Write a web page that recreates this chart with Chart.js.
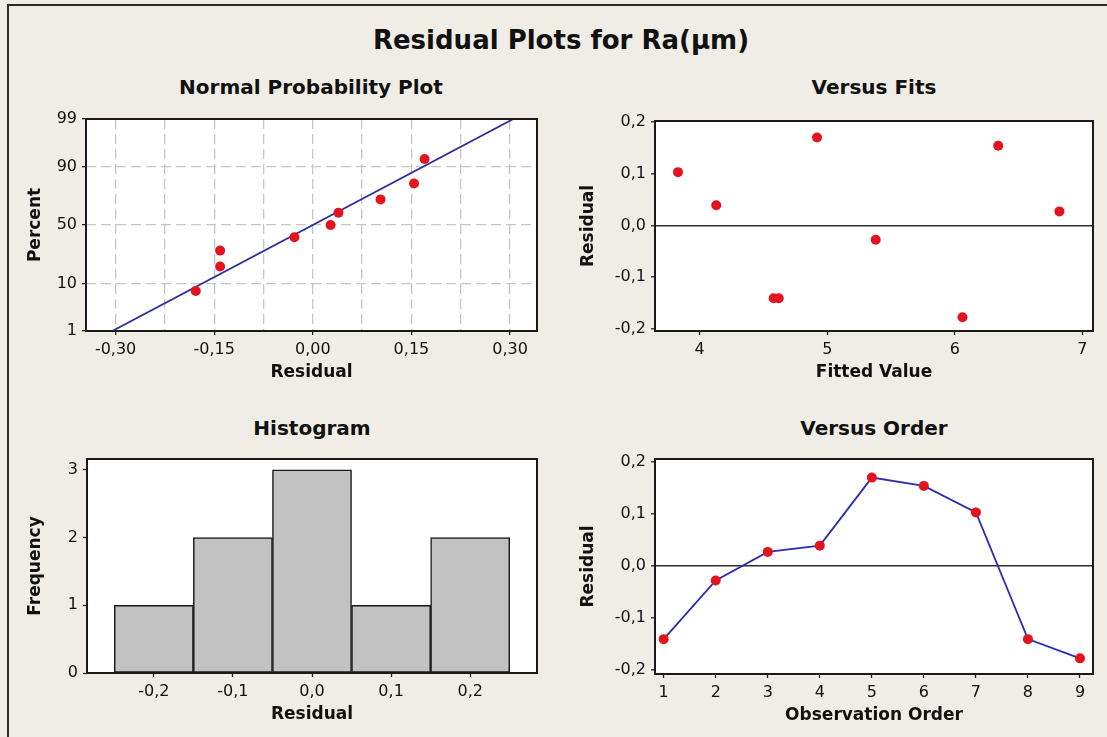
<!DOCTYPE html>
<html>
<head>
<meta charset="utf-8">
<title>Residual Plots for Ra(µm)</title>
<script src="https://cdn.jsdelivr.net/npm/chart.js@4.4.1/dist/chart.umd.min.js"></script>
<style>
  html, body { margin: 0; padding: 0; }
  body {
    width: 1107px; height: 737px; position: relative; overflow: hidden;
    background: #efede5; color: #111;
    font-family: 'DejaVu Sans', sans-serif;
  }
  #frame {
    position: absolute; left: 7px; top: 4px; right: -10px; bottom: -10px;
    border-left: 2px solid #2b2b2b; border-top: 2px solid #2b2b2b;
  }
  .title { position: absolute; text-align: center; font-weight: bold; white-space: nowrap; }
  #main { left: 0; width: 1122px; top: 22px; font-size: 26px; line-height: 36px; }
  .panel { font-size: 20px; line-height: 24px; width: 460px; }
  canvas { position: absolute; }
</style>
</head>
<body>
<div id="frame"></div>
<div id="main" class="title">Residual Plots for Ra(µm)</div>
<div class="title panel" style="left:81px; top:75px;">Normal Probability Plot</div>
<div class="title panel" style="left:644px; top:75px;">Versus Fits</div>
<div class="title panel" style="left:82px; top:416px;">Histogram</div>
<div class="title panel" style="left:644px; top:416px;">Versus Order</div>

<canvas id="prob" width="527" height="291" style="left:25px; top:104px;"></canvas>
<canvas id="fits" width="530" height="289" style="left:578px; top:106px;"></canvas>
<canvas id="hist" width="527" height="293" style="left:25px; top:444px;"></canvas>
<canvas id="order" width="530" height="294" style="left:578px; top:444px;"></canvas>

<script>
// values
const observations = [1, 2, 3, 4, 5, 6, 7, 8, 9];
const residuals = [-0.141, -0.028, 0.027, 0.039, 0.170, 0.154, 0.103, -0.141, -0.178];
const fittedValues = [4.58, 5.38, 6.82, 4.13, 4.92, 6.34, 3.83, 4.62, 6.06];
const probPercents = [7.4, 18.1, 28.7, 39.4, 50, 60.6, 71.3, 81.9, 92.6];
const fitLineResid = [-0.305, 0.305];
const fitLinePercent = [1, 99];
const binCentres = [-0.2, -0.1, 0.0, 0.1, 0.2];
const binCounts = [1, 2, 3, 1, 2];

// tick positions
const probXTicks = [-0.3, -0.225, -0.15, -0.075, 0, 0.075, 0.15, 0.225, 0.3];
const probYTicks = [1, 10, 50, 90, 99];
const residTicks = [-0.2, -0.1, 0, 0.1, 0.2];
const fitTicks = [4, 5, 6, 7];
const countTicks = [0, 1, 2, 3];

// inverse normal cdf (Acklam) for the probability axis
function probit(p) {
  const a = [-39.69683028665376, 220.9460984245205, -275.9285104469687, 138.3577518672690, -30.66479806614716, 2.506628277459239];
  const b = [-54.47609879822406, 161.5858368580409, -155.6989798598866, 66.80131188771972, -13.28068155288572];
  const c = [-0.007784894002430293, -0.3223964580411365, -2.400758277161838, -2.549732539343734, 4.374664141464968, 2.938163982698783];
  const d = [0.007784695709041462, 0.3224671290700398, 2.445134137142996, 3.754408661907416];
  const tail = q => (((((c[0]*q + c[1])*q + c[2])*q + c[3])*q + c[4])*q + c[5]) /
                    ((((d[0]*q + d[1])*q + d[2])*q + d[3])*q + 1);
  if (p < 0.02425) return tail(Math.sqrt(-2 * Math.log(p)));
  if (p > 1 - 0.02425) return -tail(Math.sqrt(-2 * Math.log(1 - p)));
  const q = p - 0.5, r = q * q;
  return (((((a[0]*r + a[1])*r + a[2])*r + a[3])*r + a[4])*r + a[5]) * q /
         (((((b[0]*r + b[1])*r + b[2])*r + b[3])*r + b[4])*r + 1);
}

function normCdf(z) {
  const t = 1 / (1 + 0.3275911 * Math.abs(z) / Math.SQRT2);
  const y = 1 - (((((1.061405429*t - 1.453152027)*t) + 1.421413741)*t - 0.284496736)*t + 0.254829592)*t *
            Math.exp(-z * z / 2);
  return z >= 0 ? (1 + y) / 2 : (1 - y) / 2;
}

// normal probability scale (percent axis)
class ProbitScale extends Chart.Scale {
  static id = 'probit';
  static defaults = {};
  determineDataLimits() {
    this.min = this.options.min;
    this.max = this.options.max;
  }
  buildTicks() {
    return probYTicks.map(v => ({ value: v }));
  }
  getLabelForValue(v) { return String(v); }
  configure() {
    super.configure();
    this._zMin = probit(this.min / 100);
    this._zMax = probit(this.max / 100);
  }
  getPixelForTick(i) { return this.getPixelForValue(this.ticks[i].value); }
  getPixelForValue(v) {
    return this.getPixelForDecimal((probit(v / 100) - this._zMin) / (this._zMax - this._zMin));
  }
  getValueForPixel(px) {
    return 100 * normCdf(this._zMin + this.getDecimalForPixel(px) * (this._zMax - this._zMin));
  }
}
Chart.register(ProbitScale);

Chart.defaults.font.family = "'DejaVu Sans', sans-serif";
Chart.defaults.color = '#111';

// white plot area and black box round it
const framePlugin = {
  id: 'frame',
  beforeDraw(chart) {
    const { ctx, chartArea: a } = chart;
    ctx.save();
    ctx.fillStyle = '#ffffff';
    ctx.fillRect(a.left, a.top, a.width, a.height);
    ctx.restore();
  },
  afterDraw(chart) {
    const { ctx, chartArea: a } = chart;
    ctx.save();
    ctx.strokeStyle = '#1a1a1a';
    ctx.lineWidth = 2;
    ctx.strokeRect(a.left, a.top, a.width, a.height);
    ctx.restore();
  }
};

const comma = (v, n) => v.toFixed(n).replace('.', ',');
const tickFont = { size: 16 };
const titleFont = { size: 17, weight: 'bold' };
const noColor = 'rgba(0,0,0,0)';

// bottom axis with fixed height
function xAxis(min, max, tickVals, fmt, text, grid, dash) {
  return {
    type: 'linear', min: min, max: max, offset: false,
    afterBuildTicks: s => { s.ticks = tickVals.map(v => ({ value: v })); },
    afterFit: s => { s.height = 64; },
    ticks: { font: tickFont, color: '#111', padding: 5, maxRotation: 0, autoSkip: false, callback: fmt },
    grid: Object.assign({ tickLength: 4, tickWidth: 1.3, tickColor: '#222', offset: false }, grid),
    border: { display: false, dash: dash || [] },
    title: { display: true, text: text, font: titleFont, color: '#111', padding: { top: 0, bottom: 11.8 } }
  };
}

// left axis with fixed width
function yAxis(type, min, max, tickVals, fmt, text, width, grid, dash) {
  const axis = {
    type: type, min: min, max: max,
    afterFit: s => { s.width = width; },
    ticks: { font: tickFont, color: '#111', padding: 5, autoSkip: false, callback: fmt },
    grid: Object.assign({ tickLength: 4, tickWidth: 1.3, tickColor: '#222' }, grid),
    border: { display: false, dash: dash || [] },
    title: { display: true, text: text, font: titleFont, color: '#111', padding: { top: 0, bottom: 0 } }
  };
  if (type === 'linear') axis.afterBuildTicks = s => { s.ticks = tickVals.map(v => ({ value: v })); };
  return axis;
}

const zeroLine = { color: ctx => (ctx.tick && ctx.tick.value === 0 ? '#2e2e2e' : noColor), lineWidth: 1.6 };
const dashedGrid = { color: '#c6c6c6', lineWidth: 1.3 };

function baseOptions(scales) {
  return {
    responsive: false,
    animation: false,
    events: [],
    layout: { padding: { left: 0, top: 15, right: 15, bottom: 0 } },
    plugins: { legend: { display: false }, tooltip: { enabled: false } },
    scales: scales
  };
}

const redPoint = { pointRadius: 5, pointBackgroundColor: '#e3141e', pointBorderWidth: 0 };

// normal probability plot
const sortedResid = residuals.slice().sort((a, b) => a - b);
new Chart(document.getElementById('prob'), {
  type: 'scatter',
  data: {
    datasets: [
      Object.assign({ data: sortedResid.map((r, i) => ({ x: r, y: probPercents[i] })) }, redPoint),
      {
        data: fitLineResid.map((r, i) => ({ x: r, y: fitLinePercent[i] })),
        showLine: true, pointRadius: 0, borderColor: '#2d2d9e', borderWidth: 1.8
      }
    ]
  },
  options: baseOptions({
    x: xAxis(-0.345, 0.341, probXTicks, (v, i) => (i % 2 === 0 ? comma(v, 2) : ''), 'Residual',
      Object.assign({ tickColor: ctx => (ctx.index % 2 === 0 ? '#222' : noColor) }, dashedGrid), [10, 5]),
    y: yAxis('probit', 1, 99, probYTicks, v => String(v), 'Percent', 61, dashedGrid, [10, 5])
  }),
  plugins: [framePlugin]
});

// versus fits
new Chart(document.getElementById('fits'), {
  type: 'scatter',
  data: {
    datasets: [
      Object.assign({ data: fittedValues.map((f, i) => ({ x: f, y: residuals[i] })) }, redPoint)
    ]
  },
  options: baseOptions({
    x: xAxis(3.65, 7.083, fitTicks, v => String(v), 'Fitted Value', { drawOnChartArea: false }),
    y: yAxis('linear', -0.2045, 0.202, residTicks, v => comma(v, 1), 'Residual', 77, zeroLine)
  }),
  plugins: [framePlugin]
});

// histogram
new Chart(document.getElementById('hist'), {
  type: 'bar',
  data: {
    datasets: [{
      data: binCentres.map((c, i) => ({ x: c, y: binCounts[i] })),
      backgroundColor: '#c2c2c2', borderColor: '#1a1a1a', borderWidth: 1.5,
      borderSkipped: false, barPercentage: 1, categoryPercentage: 1
    }]
  },
  options: baseOptions({
    x: xAxis(-0.2845, 0.2845, binCentres, v => comma(v, 1), 'Residual', { drawOnChartArea: false }),
    y: yAxis('linear', 0, 3.16, countTicks, v => String(v), 'Frequency', 62, { drawOnChartArea: false })
  }),
  plugins: [framePlugin]
});

// versus order
new Chart(document.getElementById('order'), {
  type: 'scatter',
  data: {
    datasets: [
      Object.assign({
        data: observations.map((o, i) => ({ x: o, y: residuals[i] })),
        showLine: true, borderColor: '#2d2db0', borderWidth: 1.8
      }, redPoint)
    ]
  },
  options: baseOptions({
    x: xAxis(0.833, 9.25, observations, v => String(v), 'Observation Order', { drawOnChartArea: false }),
    y: yAxis('linear', -0.2081, 0.2058, residTicks, v => comma(v, 1), 'Residual', 77, zeroLine)
  }),
  plugins: [framePlugin]
});
</script>
</body>
</html>
